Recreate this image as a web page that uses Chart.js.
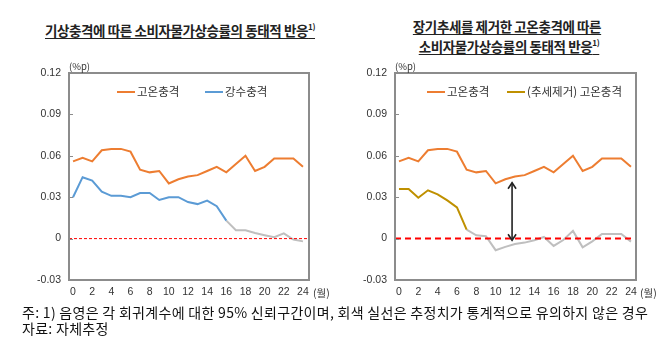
<!DOCTYPE html>
<html>
<head>
<meta charset="utf-8">
<script src="https://cdn.jsdelivr.net/npm/chart.js@4.4.1/dist/chart.umd.min.js"></script>
<style>
  body { margin: 0; background: #fff; width: 670px; height: 354px; position: relative; overflow: hidden;
         font-family: "Noto Sans CJK KR", sans-serif; color: #222; }
  canvas { position: absolute; top: 0; }
  .title { position: absolute; font-weight: bold; font-size: 13.5px; text-decoration: underline;
           text-underline-offset: 2px; letter-spacing: -0.4px; white-space: nowrap; transform: translateX(-50%); line-height: 15px; }
  .title sup { font-size: 8px; }
  .unit { position: absolute; font-size: 9.5px; color: #333; font-family: "Noto Sans CJK KR", sans-serif; }
  .leg { position: absolute; font-size: 11.5px; color: #333; white-space: nowrap; line-height: 14px; }
  .leg i { display: inline-block; width: 18px; height: 2px; vertical-align: middle; margin-right: 2px; margin-top: -2px; }
  .note { position: absolute; left: 22px; font-size: 14px; letter-spacing: 0.3px; white-space: nowrap; line-height: 16px; color: #111; }
</style>
</head>
<body>
<div class="title" style="left:180px; top:19px;">기상충격에 따른 소비자물가상승률의 동태적 반응<sup>1)</sup></div>
<div class="title" style="left:507px; top:19px;">장기추세를 제거한 고온충격에 따른</div>
<div class="title" style="left:509px; top:35px;">소비자물가상승률의 동태적 반응<sup>1)</sup></div>

<canvas id="left" width="335" height="300" style="left:0"></canvas>
<canvas id="right" width="335" height="300" style="left:335px"></canvas>

<div class="unit" style="left:69px; top:59px;">(%p)</div>
<div class="unit" style="left:395px; top:59px;">(%p)</div>
<div class="unit" style="left:313px; top:285px; font-size:10.5px;">(월)</div>
<div class="unit" style="left:640px; top:285px; font-size:10.5px;">(월)</div>

<div class="leg" style="left:117px; top:84px;"><i style="background:#ED7D31"></i>고온충격</div>
<div class="leg" style="left:205px; top:84px;"><i style="background:#5B9BD5"></i>강수충격</div>
<div class="leg" style="left:427px; top:84px;"><i style="background:#ED7D31"></i>고온충격</div>
<div class="leg" style="left:507px; top:84px;"><i style="background:#BF9000"></i>(추세제거) 고온충격</div>

<div class="note" style="top:304px;">주: 1) 음영은 각 회귀계수에 대한 95% 신뢰구간이며, 회색 실선은 추정치가 통계적으로 유의하지 않은 경우</div>
<div class="note" style="top:320px;">자료: 자체추정</div>

<script>
// months after the shock
let months = [0,1,2,3,4,5,6,7,8,9,10,11,12,13,14,15,16,17,18,19,20,21,22,23,24];
let xTicks = [0,2,4,6,8,10,12,14,16,18,20,22,24];
let yTicks = [-0.03, 0, 0.03, 0.06, 0.09, 0.12];

// 고온충격
let heat = [0.056,0.0585,0.056,0.064,0.065,0.065,0.063,0.050,0.048,0.049,0.040,0.043,0.045,0.046,0.049,0.052,0.048,0.054,0.060,0.049,0.052,0.058,0.058,0.058,0.052];
// 강수충격 (significant up to rainSplit, gray after)
let rain = [0.030,0.0445,0.042,0.034,0.031,0.031,0.030,0.033,0.033,0.028,0.030,0.030,0.0265,0.025,0.0275,0.0235,0.013,0.006,0.006,0.004,0.0025,0.001,0.0038,-0.0007,-0.002];
let rainSplit = 16;
// (추세제거) 고온충격 (significant up to detSplit, gray after)
let heatDetrend = [0.036,0.036,0.0296,0.035,0.032,0.0277,0.0226,0.0065,0.0024,0.0017,-0.0084,-0.006,-0.0039,-0.0029,-0.0012,0.0012,-0.0053,-0.001,0.0056,-0.0063,-0.002,0.0034,0.0034,0.0034,-0.0022];
let detSplit = 7;
// double arrow between the two heat lines
let arrowX = 11.7, arrowTop = 0.0405, arrowBottom = -0.0012;

function pts(arr, from, to) {
    let out = [];
    for (let i = from; i <= to; i++) out.push({x: months[i], y: arr[i]});
    return out;
}

function line(data, color) {
    return { data: data, borderColor: color, borderWidth: 2, pointRadius: 0, fill: false, tension: 0 };
}

// box, zero line, inner ticks, arrow
let decor = {
    id: 'decor',
    afterDatasetsDraw(chart, args, opts) {
        let ctx = chart.ctx, a = chart.chartArea;
        let ys = chart.scales.y, xs = chart.scales.x;
        ctx.save();
        // zero line
        let y0 = ys.getPixelForValue(0);
        ctx.strokeStyle = '#FF0000';
        ctx.lineWidth = opts.zeroWidth;
        ctx.setLineDash(opts.zeroDash);
        ctx.beginPath(); ctx.moveTo(a.left, y0); ctx.lineTo(a.right, y0); ctx.stroke();
        ctx.setLineDash([]);
        // box
        ctx.strokeStyle = '#8C8C8C';
        ctx.lineWidth = 2;
        ctx.strokeRect(a.left, a.top, a.right - a.left, a.bottom - a.top);
        // y ticks pointing inward
        ctx.lineWidth = 1;
        yTicks.forEach(function (v) {
            let y = Math.round(ys.getPixelForValue(v)) + 0.5;
            ctx.beginPath(); ctx.moveTo(a.left, y); ctx.lineTo(a.left + 4, y); ctx.stroke();
        });
        if (opts.arrow) {
            let x = xs.getPixelForValue(arrowX);
            let t = ys.getPixelForValue(arrowTop), b = ys.getPixelForValue(arrowBottom);
            ctx.strokeStyle = '#222';
            ctx.lineWidth = 1.6;
            ctx.beginPath(); ctx.moveTo(x, t); ctx.lineTo(x, b); ctx.stroke();
            ctx.beginPath();
            ctx.moveTo(x - 4, t + 6); ctx.lineTo(x, t); ctx.lineTo(x + 4, t + 6);
            ctx.moveTo(x - 4, b - 6); ctx.lineTo(x, b); ctx.lineTo(x + 4, b - 6);
            ctx.stroke();
        }
        ctx.restore();
    }
};

function renderChart(id, datasets, o) {
    return new Chart(document.getElementById(id), {
        type: 'line',
        data: { datasets: datasets },
        plugins: [decor],
        options: {
            responsive: false,
            animation: false,
            devicePixelRatio: 1,
            layout: { padding: { top: 73, right: o.padRight, left: 0, bottom: 0 } },
            plugins: {
                legend: { display: false },
                tooltip: { enabled: false },
                decor: { zeroWidth: o.zeroWidth, zeroDash: o.zeroDash, arrow: o.arrow }
            },
            scales: {
                x: {
                    type: 'linear', min: o.xMin, max: o.xMax,
                    afterBuildTicks: function (s) { s.ticks = xTicks.map(function (v) { return {value: v}; }); },
                    afterFit: function (s) { s.height = 20; },
                    grid: { display: false, drawTicks: false },
                    border: { display: false },
                    ticks: { padding: 6, color: '#333', font: { family: 'Liberation Sans', size: 10.5 }, maxRotation: 0 }
                },
                y: {
                    min: -0.03, max: 0.12,
                    afterBuildTicks: function (s) { s.ticks = yTicks.map(function (v) { return {value: v}; }); },
                    afterFit: function (s) { s.width = o.yWidth; },
                    grid: { display: false, drawTicks: false },
                    border: { display: false },
                    ticks: {
                        padding: 8, color: '#333', font: { family: 'Liberation Sans', size: 10.5 },
                        callback: function (v) { return v === 0 ? '0' : v.toFixed(2); }
                    }
                }
            }
        }
    });
}

renderChart('left', [
    line(pts(heat, 0, 24), '#ED7D31'),
    line(pts(rain, 0, rainSplit), '#5B9BD5'),
    line(pts(rain, rainSplit, 24), '#BFBFBF')
], { padRight: 26, yWidth: 69, xMin: -0.42, xMax: 24.63, zeroWidth: 1, zeroDash: [3, 2], arrow: false });

renderChart('right', [
    line(pts(heat, 0, 24), '#ED7D31'),
    line(pts(heatDetrend, 0, detSplit), '#BF9000'),
    line(pts(heatDetrend, detSplit, 24), '#BFBFBF')
], { padRight: 34, yWidth: 60, xMin: -0.41, xMax: 24.52, zeroWidth: 2, zeroDash: [6, 4], arrow: true });
</script>
</body>
</html>
